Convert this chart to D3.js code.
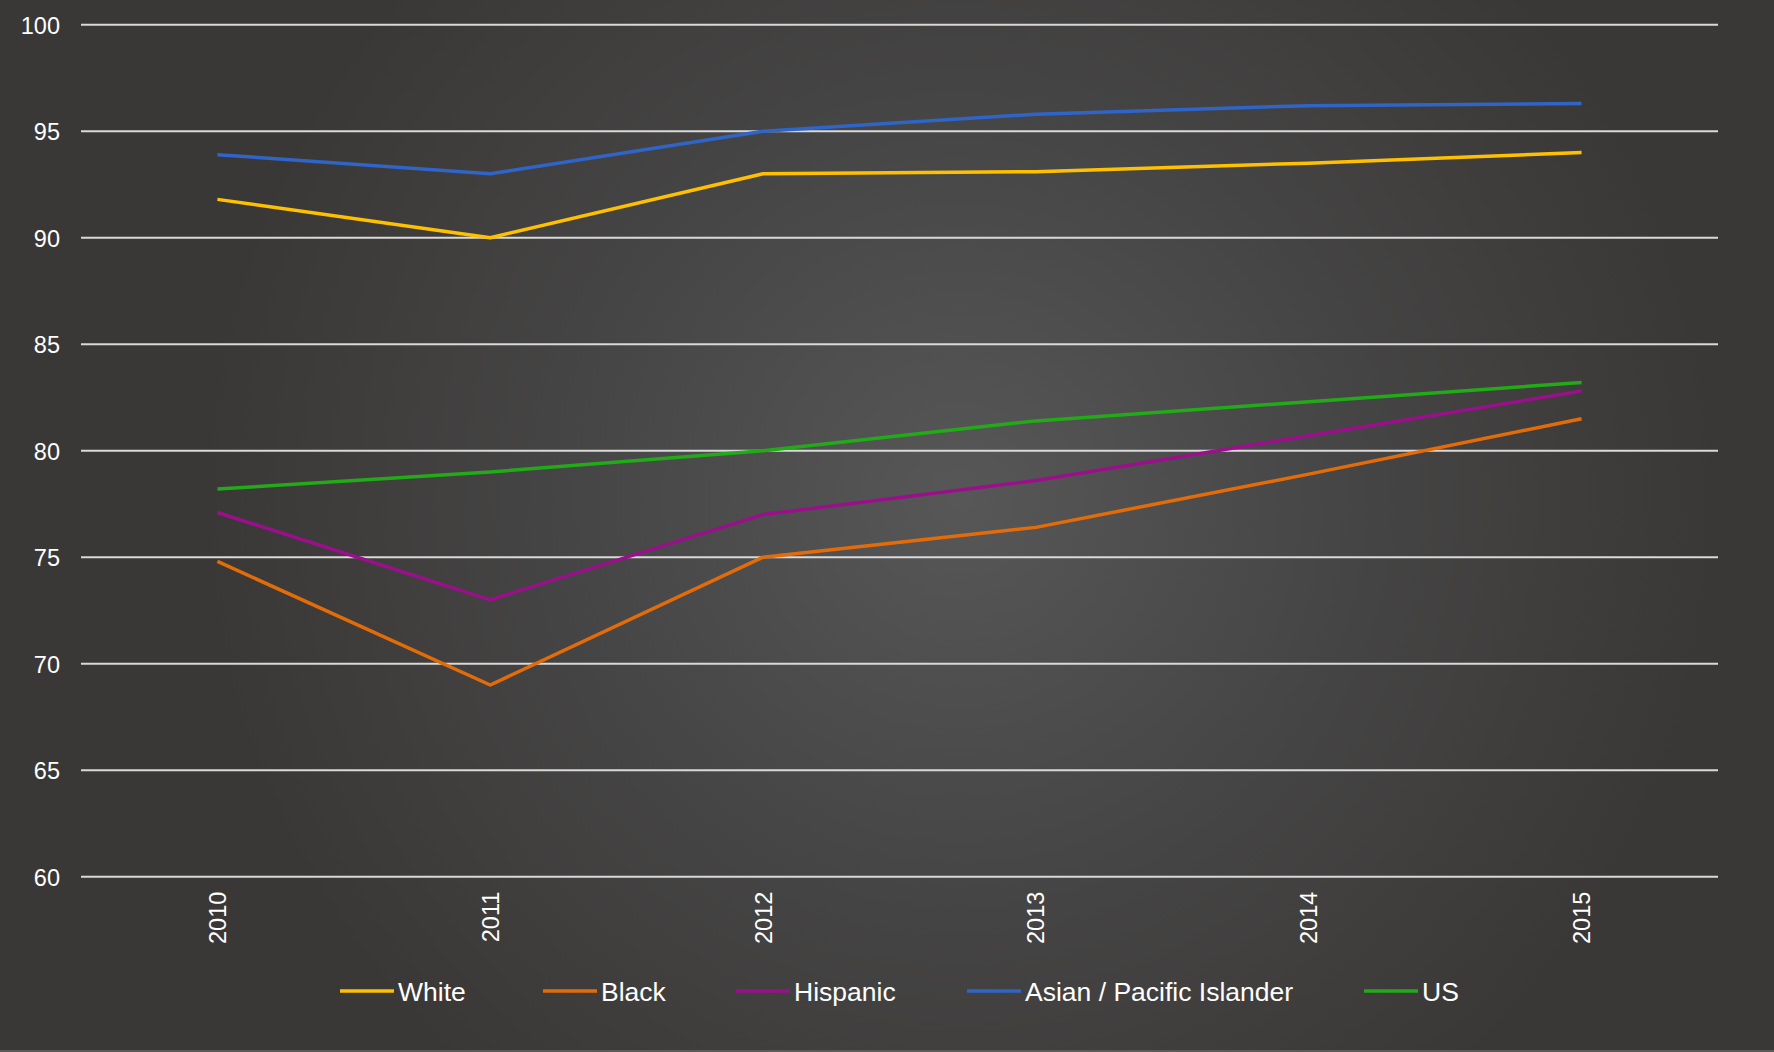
<!DOCTYPE html>
<html>
<head>
<meta charset="utf-8">
<script src="https://cdn.jsdelivr.net/npm/d3@7"></script>
<style>
  html, body { margin: 0; padding: 0; background: #3a3836; }
  svg { display: block; }
  text { font-family: "Liberation Sans", Arial, sans-serif; fill: #ffffff; }
</style>
</head>
<body>
<svg id="chart" width="1774" height="1052"></svg>
<script>
// Years on the horizontal axis
const years = ["2010", "2011", "2012", "2013", "2014", "2015"];

// Series values by year
const white    = [91.8, 90.0, 93.0, 93.1, 93.5, 94.0];
const black    = [74.8, 69.0, 75.0, 76.4, 78.9, 81.5];
const hispanic = [77.1, 73.0, 77.0, 78.6, 80.7, 82.8];
const asianPI  = [93.9, 93.0, 95.0, 95.8, 96.2, 96.3];
const us       = [78.2, 79.0, 80.0, 81.4, 82.3, 83.2];

const seriesNames  = ["White", "Black", "Hispanic", "Asian / Pacific Islander", "US"];
const seriesValues = [white, black, hispanic, asianPI, us];
const seriesColors = ["#ffc000", "#e36c09", "#9b0f8c", "#2f64c8", "#22aa18"];

// Value axis ticks
const yTicks = [60, 65, 70, 75, 80, 85, 90, 95, 100];

const W = 1774, H = 1052;
const plot = { left: 81, right: 1718, top: 24.7, bottom: 876.7 };

const svg = d3.select("#chart");

// Background: dark with a soft lighter glow in the middle
const defs = svg.append("defs");
const grad = defs.append("radialGradient")
  .attr("id", "bg")
  .attr("gradientUnits", "userSpaceOnUse")
  .attr("cx", 960).attr("cy", 500).attr("r", 760);
grad.append("stop").attr("offset", "0%").attr("stop-color", "#575757");
grad.append("stop").attr("offset", "55%").attr("stop-color", "#454444");
grad.append("stop").attr("offset", "100%").attr("stop-color", "#3a3836");

svg.append("rect").attr("width", W).attr("height", H).attr("fill", "url(#bg)");
svg.append("rect").attr("x", 0).attr("y", H - 2).attr("width", W).attr("height", 2)
  .attr("fill", "#5c5b5a");

const x = d3.scaleBand().domain(years).range([plot.left, plot.right]);
const y = d3.scaleLinear().domain([60, 100]).range([plot.bottom, plot.top]);
const cx = d => x(d) + x.bandwidth() / 2;

// Horizontal gridlines
svg.append("g")
  .selectAll("line")
  .data(yTicks)
  .join("line")
  .attr("x1", plot.left).attr("x2", plot.right)
  .attr("y1", d => y(d)).attr("y2", d => y(d))
  .attr("stroke", "#d9d9d9").attr("stroke-width", 2);

// Y axis labels
const yAxis = d3.axisLeft(y).tickValues(yTicks).tickSize(0).tickPadding(0);
const gy = svg.append("g").attr("transform", `translate(${plot.left - 21},0)`).call(yAxis);
gy.select(".domain").remove();
gy.selectAll("text")
  .attr("fill", "#ffffff")
  .style("font-size", "23.5px")
  .style("font-family", "'Liberation Sans', Arial, sans-serif")
  .attr("dy", "0.36em");

// X axis labels, rotated
const xAxis = d3.axisBottom(x).tickSize(0).tickPadding(0);
const gx = svg.append("g").attr("transform", `translate(0,${plot.bottom})`).call(xAxis);
gx.select(".domain").remove();
gx.selectAll("text")
  .attr("fill", "#ffffff")
  .style("font-size", "23.5px")
  .style("font-family", "'Liberation Sans', Arial, sans-serif")
  .attr("text-anchor", "end")
  .attr("transform", "rotate(-90)")
  .attr("x", -15)
  .attr("y", 0)
  .attr("dy", "0.36em");

// Series lines
const line = d3.line().x((d, i) => cx(years[i])).y(d => y(d));
svg.append("g")
  .selectAll("path")
  .data(seriesValues)
  .join("path")
  .attr("d", d => line(d))
  .attr("fill", "none")
  .attr("stroke", (d, i) => seriesColors[i])
  .attr("stroke-width", 3.5)
  .attr("stroke-linejoin", "round");

// Legend
const legendX = [340, 543, 736, 967, 1364];
const legendY = 991;
const lg = svg.append("g");
seriesNames.forEach((name, i) => {
  lg.append("line")
    .attr("x1", legendX[i]).attr("x2", legendX[i] + 54)
    .attr("y1", legendY).attr("y2", legendY)
    .attr("stroke", seriesColors[i]).attr("stroke-width", 3.5);
  lg.append("text")
    .attr("x", legendX[i] + 58).attr("y", legendY)
    .attr("dy", "0.36em")
    .style("font-size", "26.5px")
    .text(name);
});
</script>
</body>
</html>
